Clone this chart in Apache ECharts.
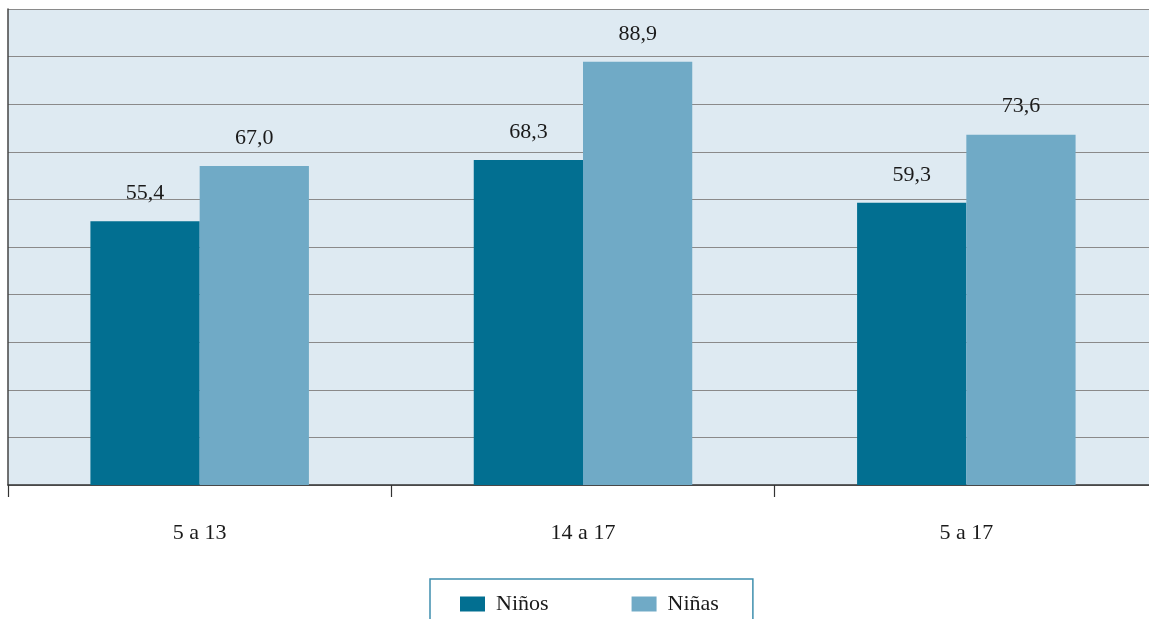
<!DOCTYPE html>
<html><head><meta charset="utf-8">
<script src="https://cdn.jsdelivr.net/npm/echarts@6/dist/echarts.min.js"></script>
<style>html,body{margin:0;padding:0;background:#fff;overflow:hidden}#c{width:1158px;height:619px}</style>
</head><body><div id="c"></div>
<script>
const categories = ['5 a 13', '14 a 17', '5 a 17'];
const ninos = [55.4, 68.3, 59.3];
const ninas = [67.0, 88.9, 73.6];
const seriesNames = ['Niños', 'Niñas'];
const fmt = v => v.toFixed(1).replace('.', ',');
const FONT = '"Liberation Serif", "DejaVu Serif", serif';
const chart = echarts.init(document.getElementById('c'), null, {renderer: 'canvas'});
const lbl = {show: true, position: 'top', distance: 17, color: '#1a1a1a', fontFamily: FONT, fontSize: 22,
  formatter: p => fmt(p.value)};
chart.setOption({
  animation: false,
  textStyle: {fontFamily: FONT},
  grid: {left: 8, right: 0, top: 9, bottom: 134, show: true, backgroundColor: '#deeaf2', borderWidth: 0},
  xAxis: {type: 'category', data: categories,
    axisLine: {show: true, lineStyle: {color: '#333', width: 1.5}},
    axisTick: {show: true, length: 12, alignWithLabel: false, lineStyle: {color: '#333', width: 1.2}},
    axisLabel: {color: '#1a1a1a', fontFamily: FONT, fontSize: 22, margin: 37}},
  yAxis: {type: 'value', min: 0, max: 100, interval: 10,
    axisLine: {show: true, lineStyle: {color: '#444', width: 1.5}},
    axisTick: {show: false}, axisLabel: {show: false},
    splitLine: {show: true, lineStyle: {color: '#8a8a8a', width: 1.2}}},
  legend: {data: seriesNames, left: 430, top: 579, orient: 'horizontal',
    padding: [14, 34, 20, 30], itemGap: 83, itemWidth: 25, itemHeight: 15,
    borderColor: '#3f8fae', borderWidth: 1.5, icon: 'rect',
    textStyle: {color: '#1a1a1a', fontFamily: FONT, fontSize: 22, padding: [0, 0, 0, 6]}},
  series: [
    {name: seriesNames[0], type: 'bar', data: ninos, barWidth: '28.5%', barGap: '0%',
     itemStyle: {color: '#026f91'}, label: lbl},
    {name: seriesNames[1], type: 'bar', data: ninas, barWidth: '28.5%', barGap: '0%',
     itemStyle: {color: '#70aac6'}, label: lbl}
  ]
});
</script></body></html>
